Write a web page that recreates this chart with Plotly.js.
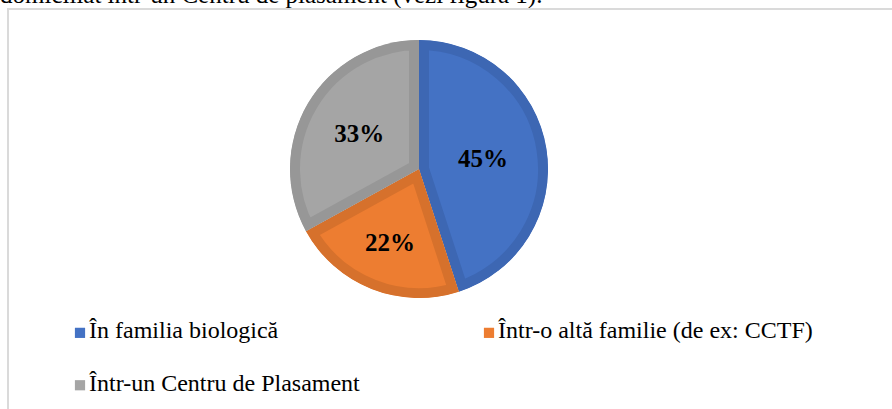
<!DOCTYPE html>
<html><head><meta charset="utf-8">
<script src="https://cdn.plot.ly/plotly-3.0.1.min.js"></script>
<style>
html,body{margin:0;padding:0;background:#fff;overflow:hidden}
#chart{width:892px;height:409px;position:absolute;left:0;top:0}
#frame{position:absolute;left:7px;top:8px;width:900px;height:420px;border-left:2px solid #dadada;border-top:2px solid #dadada;pointer-events:none}
</style></head><body>
<div id="chart"></div><div id="frame"></div>
<script>
const categories = ['În familia biologică', 'Într-o altă familie (de ex: CCTF)', 'Într-un Centru de Plasament'];
const values = [45, 22, 33];
const fillColors = ['#4472C4', '#ED7D31', '#A5A5A5'];
const edgeColors = ['#3D67B3', '#D6712C', '#979797'];
const headingText = 'domiciliat într-un Centru de plasament (vezi figura 1).';

const legendLabels = categories.map((c, i) =>
  (i === 2 ? '<br>' : '') + '<span style="font-size:24px">' + c + '</span>');

const W = 892, H = 409;
const cx = 419, cy = 169, r = 129;

const trace = {
  type: 'pie',
  labels: legendLabels,
  values: values,
  sort: false,
  direction: 'clockwise',
  rotation: 0,
  marker: {colors: fillColors, line: {color: edgeColors, width: 20}},
  textinfo: 'percent',
  texttemplate: '%{percent:.0%}',
  textposition: 'inside',
  insidetextorientation: 'horizontal',
  textfont: {family: 'Liberation Serif', size: 25, color: '#000', weight: 'bold'},
  hoverinfo: 'skip',
  domain: {x: [(cx - r) / W, (cx + r) / W], y: [(H - cy - r) / H, (H - cy + r) / H]}
};

const layout = {
  width: W, height: H,
  margin: {l: 0, r: 0, t: 0, b: 0, autoexpand: false},
  paper_bgcolor: '#fff',
  showlegend: true,
  legend: {
    orientation: 'h', x: 49 / W, xanchor: 'left', y: 1 - 312 / H, yanchor: 'top',
    font: {family: 'Liberation Serif', size: 19, color: '#000'},
    entrywidth: 364, entrywidthmode: 'pixels', traceorder: 'normal', valign: 'bottom',
    bgcolor: 'rgba(0,0,0,0)'
  },
  annotations: [{
    text: headingText, xref: 'paper', yref: 'paper', x: 0, y: 1,
    xanchor: 'left', yanchor: 'bottom', yshift: -11, xshift: -2, showarrow: false,
    font: {family: 'Liberation Serif', size: 25, color: '#000'}
  }]
};

Plotly.newPlot('chart', [trace], layout, {displayModeBar: false, staticPlot: true}).then(gd => {
  const svg = gd.querySelector('svg.main-svg');
  const ns = 'http://www.w3.org/2000/svg';
  let defs = svg.querySelector('defs');
  gd.querySelectorAll('.pielayer g.slice path.surface').forEach((p, i) => {
    const cp = document.createElementNS(ns, 'clipPath');
    cp.setAttribute('id', 'sliceclip' + i);
    const cpath = document.createElementNS(ns, 'path');
    cpath.setAttribute('d', p.getAttribute('d'));
    cp.appendChild(cpath);
    defs.appendChild(cp);
    const g = document.createElementNS(ns, 'g');
    g.setAttribute('clip-path', 'url(#sliceclip' + i + ')');
    p.parentNode.insertBefore(g, p);
    g.appendChild(p);
  });
  gd.querySelectorAll('.legend path.legendpie').forEach(p => {
    p.style.strokeWidth = '0px';
    const t = p.getAttribute('transform') || '';
    p.setAttribute('transform', t.replace(/translate\(\s*20\s*,\s*(-?[\d.]+)\s*\)/, (m, y) => 'translate(31,' + (parseFloat(y) + 2) + ')') + ' scale(0.85)');
  });
});
</script>
</body></html>
